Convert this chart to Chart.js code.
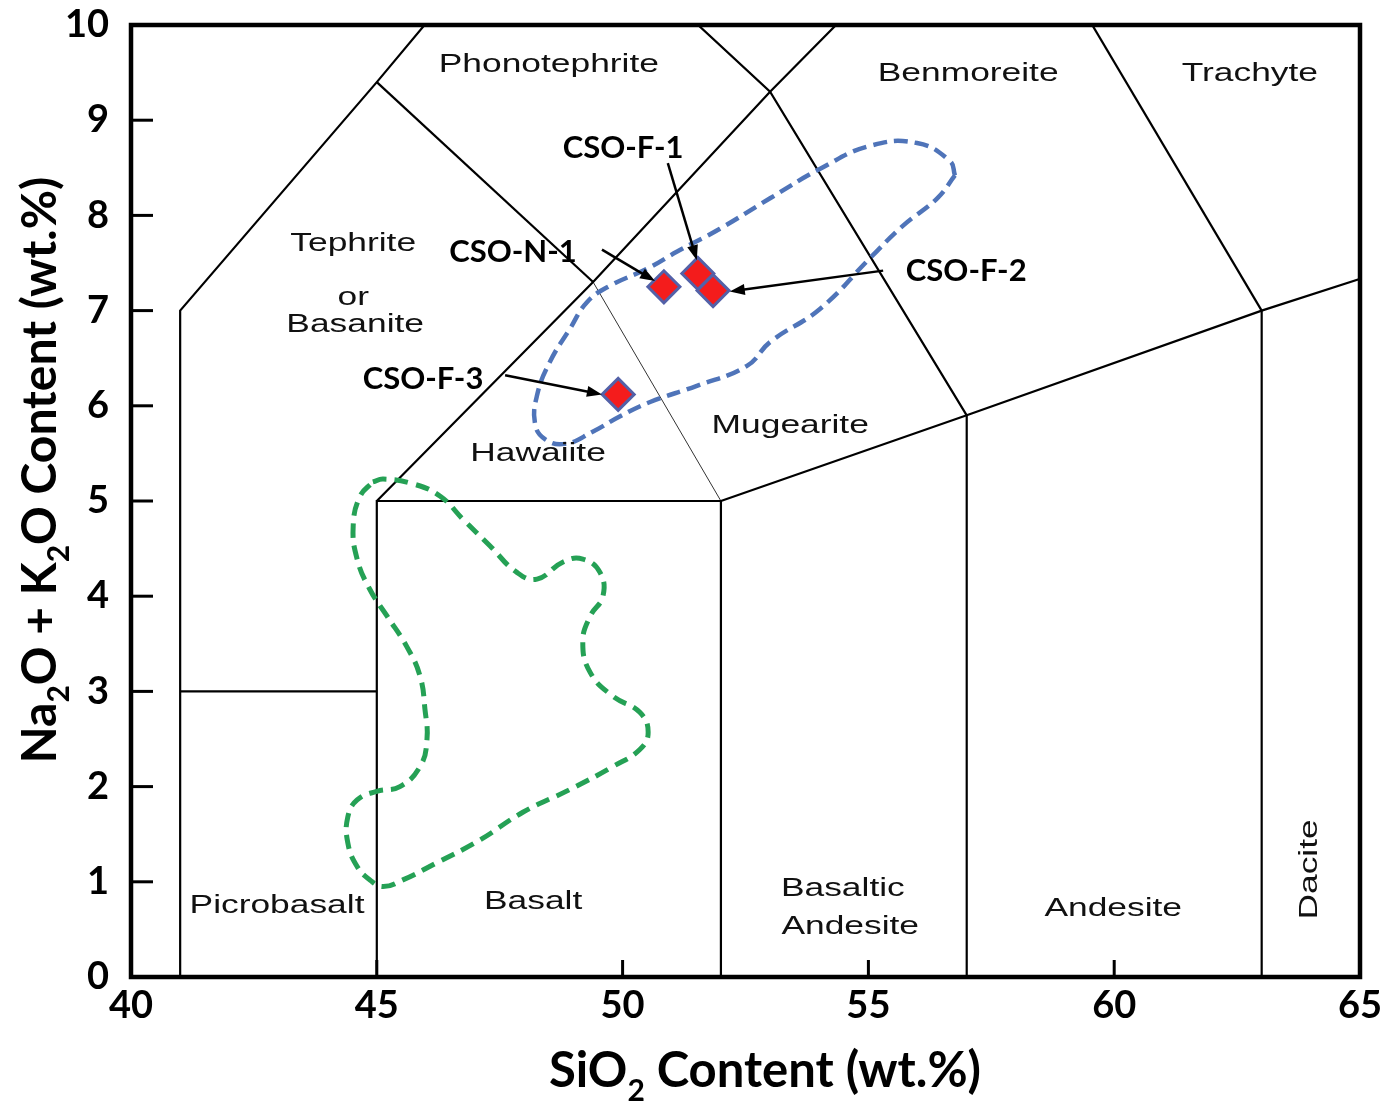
<!DOCTYPE html>
<html>
<head>
<meta charset="utf-8">
<title>TAS diagram</title>
<script src="https://cdn.jsdelivr.net/npm/chart.js@4.4.1/dist/chart.umd.min.js"></script>
<style>
  html, body { margin: 0; padding: 0; background: #fff; }
  #wrap { width: 1397px; height: 1102px; position: relative; }
</style>
</head>
<body>
<div id="wrap"><canvas id="tas"></canvas></div>
<script>
// axis ticks
const xTicks = [40, 45, 50, 55, 60, 65];
const yTicks = [0, 1, 2, 3, 4, 5, 6, 7, 8, 9, 10];

// analysed samples
const sampleNames = ['CSO-N-1', 'CSO-F-1', 'CSO-F-2', 'CSO-F-3'];
const sampleSiO2 = [50.84, 51.53, 51.84, 49.91];
const sampleAlk = [7.25, 7.39, 7.21, 6.12];

// blue dashed field
const blueSiO2 = [56.76, 56.66, 55.99, 55.03, 54.02, 53.0, 51.98, 51.11, 50.5, 49.74, 49.28, 48.93, 48.52, 48.26, 48.22, 48.42,
  48.83, 49.4, 49.95, 50.56, 51.51, 52.53, 53.0, 54.02, 55.03, 55.7, 56.4, 56.76];
const blueAlk = [8.42, 8.57, 8.76, 8.73, 8.49, 8.18, 7.86, 7.62, 7.44, 7.26, 7.09, 6.81, 6.46, 6.11, 5.81, 5.65,
  5.6, 5.73, 5.89, 6.04, 6.21, 6.42, 6.67, 7.02, 7.55, 7.89, 8.18, 8.42];

// green dashed field
const greenSiO2 = [44.92, 45.13, 45.74, 46.29, 46.75, 47.3, 47.85, 48.26, 48.79, 49.19, 49.54, 49.6, 49.34, 49.19, 49.34, 49.8,
  50.35, 50.52, 50.35, 49.8, 48.93, 47.97, 47.1, 46.22, 45.53, 45.13, 44.86, 44.6, 44.41, 44.41, 44.6, 45.0, 45.47,
  45.88, 46.02, 45.98, 45.88, 45.61, 45.21, 44.86, 44.6, 44.52, 44.66, 44.92];
const greenAlk = [5.2, 5.23, 5.18, 5.05, 4.81, 4.53, 4.25, 4.18, 4.36, 4.39, 4.25, 4.0, 3.79, 3.52, 3.2, 2.95,
  2.78, 2.57, 2.39, 2.21, 1.97, 1.73, 1.44, 1.2, 1.02, 0.95, 1.02, 1.16, 1.41, 1.68, 1.86, 1.95, 2.0,
  2.21, 2.49, 2.81, 3.16, 3.47, 3.79, 4.07, 4.39, 4.74, 5.05, 5.2];

// TAS field boundaries, one polyline each
const tasLines = [
  [[41, 0], [41, 7], [45, 9.4], [48.4, 11.5]],
  [[41, 3], [45, 3]],
  [[45, 0], [45, 5], [52, 5], [52, 0]],
  [[45, 5], [49.4, 7.3], [53, 9.3], [57.6, 11.7]],
  [[45, 9.4], [49.4, 7.3]],
  [[48.4, 11.5], [53, 9.3], [57, 5.9]],
  [[52, 5], [57, 5.9], [63, 7], [69, 8]],
  [[57, 0], [57, 5.9]],
  [[63, 0], [63, 7]],
  [[57.6, 11.7], [63, 7]]
];
const thinLines = [
  [[49.4, 7.3], [52, 5]]
];

// field names
const fieldNames = [
  { t: 'Phonotephrite', x: 48.5, y: 9.62 },
  { t: 'Benmoreite', x: 57.03, y: 9.53 },
  { t: 'Trachyte', x: 62.76, y: 9.53 },
  { t: 'Tephrite', x: 44.52, y: 7.74 },
  { t: 'or', x: 44.52, y: 7.18 },
  { t: 'Basanite', x: 44.56, y: 6.89 },
  { t: 'Hawaiite', x: 48.28, y: 5.54 },
  { t: 'Mugearite', x: 53.41, y: 5.83 },
  { t: 'Picrobasalt', x: 42.97, y: 0.79 },
  { t: 'Basalt', x: 48.18, y: 0.83 },
  { t: 'Basaltic', x: 54.48, y: 0.97 },
  { t: 'Andesite', x: 54.63, y: 0.57 },
  { t: 'Andesite', x: 59.98, y: 0.76 },
  { t: 'Dacite', x: 63.98, y: 1.13, rot: true }
];

// sample callouts: label centre, arrow from -> to
const callouts = [
  { lx: 47.77, ly: 7.62, ax: 49.58, ay: 7.64, bx: 50.66, by: 7.31 },
  { lx: 50.01, ly: 8.71, ax: 50.92, ay: 8.55, bx: 51.51, by: 7.53 },
  { lx: 56.99, ly: 7.42, ax: 55.30, ay: 7.42, bx: 52.18, by: 7.2 },
  { lx: 45.94, ly: 6.28, ax: 47.61, ay: 6.32, bx: 49.58, by: 6.12 }
];

function toPts(xs, ys) {
  return xs.map((v, i) => ({ x: v, y: ys[i] }));
}

function drawRich(ctx, parts, cx, cy, size) {
  const subSize = Math.round(size * 0.62);
  let total = 0;
  parts.forEach(p => {
    ctx.font = `bold ${p.sub ? subSize : size}px Lato`;
    p.w = ctx.measureText(p.t).width;
    total += p.w;
  });
  let x = cx - total / 2;
  ctx.textAlign = 'left';
  ctx.textBaseline = 'alphabetic';
  parts.forEach(p => {
    ctx.font = `bold ${p.sub ? subSize : size}px Lato`;
    ctx.fillText(p.t, x, p.sub ? cy + size * 0.28 : cy);
    x += p.w;
  });
}

const tasDecor = {
  id: 'tasDecor',
  afterDatasetsDraw(chart) {
    const { ctx, scales: { x, y } } = chart;
    ctx.save();
    ctx.fillStyle = '#111';
    ctx.textAlign = 'center';
    ctx.textBaseline = 'middle';
    ctx.font = '26px "Liberation Sans"';
    // the field names in the figure are set wide
    fieldNames.forEach(f => {
      const px = x.getPixelForValue(f.x);
      const py = y.getPixelForValue(f.y);
      ctx.save();
      ctx.translate(px, py);
      if (f.rot) ctx.rotate(-Math.PI / 2);
      ctx.scale(1.36, 1);
      ctx.fillText(f.t, 0, f.rot ? 0 : 4);
      ctx.restore();
    });

    // arrows
    ctx.strokeStyle = '#000';
    ctx.fillStyle = '#000';
    ctx.lineWidth = 2.5;
    callouts.forEach((c, i) => {
      const x1 = x.getPixelForValue(c.ax), y1 = y.getPixelForValue(c.ay);
      const x2 = x.getPixelForValue(c.bx), y2 = y.getPixelForValue(c.by);
      const ang = Math.atan2(y2 - y1, x2 - x1);
      const head = 16;
      ctx.beginPath();
      ctx.moveTo(x1, y1);
      ctx.lineTo(x2 - Math.cos(ang) * head * 0.8, y2 - Math.sin(ang) * head * 0.8);
      ctx.stroke();
      ctx.beginPath();
      ctx.moveTo(x2, y2);
      ctx.lineTo(x2 - Math.cos(ang - 0.35) * head, y2 - Math.sin(ang - 0.35) * head);
      ctx.lineTo(x2 - Math.cos(ang + 0.35) * head, y2 - Math.sin(ang + 0.35) * head);
      ctx.closePath();
      ctx.fill();

      ctx.font = 'bold 31px Lato';
      ctx.textAlign = 'center';
      ctx.textBaseline = 'middle';
      ctx.fillText(sampleNames[i], x.getPixelForValue(c.lx), y.getPixelForValue(c.ly));
    });
    ctx.restore();
  },
  afterDraw(chart) {
    const { ctx, chartArea: a, scales: { x, y } } = chart;
    ctx.save();
    ctx.strokeStyle = '#000';
    ctx.lineWidth = 4.5;
    ctx.strokeRect(a.left, a.top, a.right - a.left, a.bottom - a.top);

    // inward ticks
    ctx.lineWidth = 3;
    yTicks.slice(1, -1).forEach(v => {
      const py = y.getPixelForValue(v);
      ctx.beginPath();
      ctx.moveTo(a.left, py);
      ctx.lineTo(a.left + 22, py);
      ctx.stroke();
    });
    xTicks.slice(1, -1).forEach(v => {
      const px = x.getPixelForValue(v);
      ctx.beginPath();
      ctx.moveTo(px, a.bottom);
      ctx.lineTo(px, a.bottom - 17);
      ctx.stroke();
    });

    // axis titles
    ctx.fillStyle = '#000';
    drawRich(ctx, [{ t: 'SiO' }, { t: '2', sub: true }, { t: ' Content (wt.%)' }], 765, 1087, 49);
    ctx.save();
    ctx.translate(56, 470);
    ctx.rotate(-Math.PI / 2);
    drawRich(ctx, [{ t: 'Na' }, { t: '2', sub: true }, { t: 'O + K' }, { t: '2', sub: true }, { t: 'O Content (wt.%)' }], 0, 0, 48);
    ctx.restore();
    ctx.restore();
  }
};

const datasets = [
  {
    label: 'Samples',
    data: toPts(sampleSiO2, sampleAlk),
    pointStyle: 'rectRot',
    pointRadius: 16,
    backgroundColor: '#f41c1c',
    borderColor: '#5361a8',
    borderWidth: 3,
    showLine: false
  },
  {
    label: 'Blue field',
    data: toPts(blueSiO2, blueAlk),
    showLine: true,
    borderColor: '#4f74b9',
    borderWidth: 4.5,
    borderDash: [14, 7],
    tension: 0.45,
    pointRadius: 0,
    fill: false
  },
  {
    label: 'Green field',
    data: toPts(greenSiO2, greenAlk),
    showLine: true,
    borderColor: '#25a155',
    borderWidth: 5,
    borderDash: [14, 8],
    tension: 0.45,
    pointRadius: 0,
    fill: false
  }
];

tasLines.forEach(line => {
  datasets.push({
    data: line.map(p => ({ x: p[0], y: p[1] })),
    showLine: true,
    borderColor: '#000',
    borderWidth: 2.2,
    pointRadius: 0,
    tension: 0
  });
});
thinLines.forEach(line => {
  datasets.push({
    data: line.map(p => ({ x: p[0], y: p[1] })),
    showLine: true,
    borderColor: '#333',
    borderWidth: 1,
    pointRadius: 0,
    tension: 0
  });
});

function noPad(s) {
  s.paddingTop = 0;
  s.paddingBottom = 0;
  s.paddingLeft = 0;
  s.paddingRight = 0;
}

new Chart(document.getElementById('tas'), {
  type: 'scatter',
  data: { datasets },
  options: {
    responsive: true,
    maintainAspectRatio: false,
    animation: false,
    layout: { padding: { top: 25, right: 37, left: 0, bottom: 0 } },
    plugins: { legend: { display: false }, tooltip: { enabled: false } },
    scales: {
      x: {
        type: 'linear',
        min: 40,
        max: 65,
        afterBuildTicks: s => { s.ticks = xTicks.map(v => ({ value: v })); },
        afterFit: s => { s.height = 125; noPad(s); },
        grid: { display: false },
        border: { display: false },
        ticks: { color: '#000', padding: -2, font: { family: 'Lato', weight: 'bold', size: 38 } }
      },
      y: {
        type: 'linear',
        min: 0,
        max: 10,
        afterBuildTicks: s => { s.ticks = yTicks.map(v => ({ value: v })); },
        afterFit: s => { s.width = 131; noPad(s); },
        grid: { display: false },
        border: { display: false },
        ticks: { color: '#000', padding: 14, font: { family: 'Lato', weight: 'bold', size: 38 } }
      }
    }
  },
  plugins: [tasDecor]
});
</script>
</body>
</html>
